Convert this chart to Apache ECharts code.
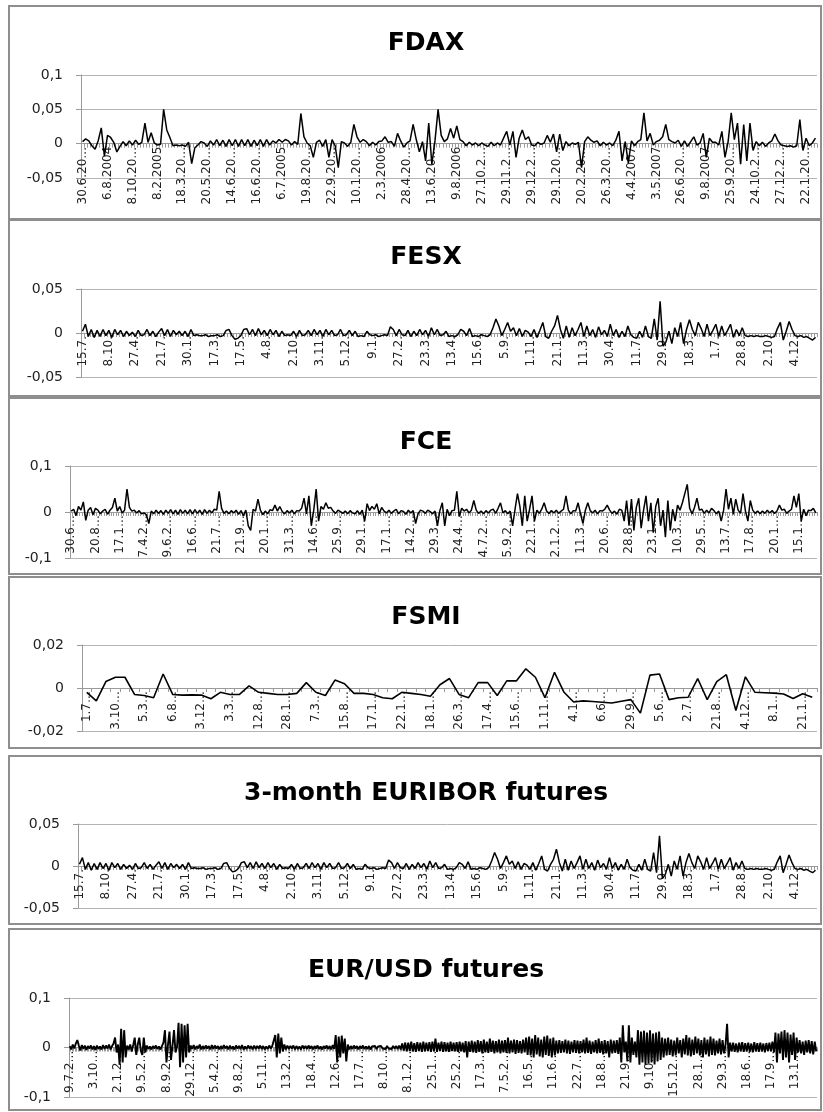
<!DOCTYPE html>
<html>
<head>
<meta charset="utf-8">
<script src="https://cdn.jsdelivr.net/npm/echarts@6/dist/echarts.min.js"></script>
<style>
  html, body { margin: 0; padding: 0; background: #fff; }
  #chart { width: 823px; height: 1112px; }
</style>
</head>
<body>
<div id="chart"></div>
<script>
// tick labels shown under each panel (one every `step` observations)
var fdaxLabels = ['30.6.20…','6.8.2004','8.10.20…','8.2.2005','18.3.20…','20.5.20…','14.6.20…','16.6.20…','6.7.2005','19.8.20…',
  '22.9.20…','10.1.20…','2.3.2006','28.4.20…','13.6.20…','9.8.2006','27.10.2…','29.11.2…','29.12.2…','29.1.20…',
  '20.2.20…','26.3.20…','4.4.2007','3.5.2007','26.6.20…','9.8.2007','25.9.20…','24.10.2…','27.12.2…','22.1.20…'];
var fesxLabels = ['15.7.','8.10.','27.4.','21.7.','30.1.','17.3.','17.5.','4.8.','2.10.','3.11.','5.12.','9.1.','27.2.','23.3.',
  '13.4.','15.6.','5.9.','1.11.','21.1.','11.3.','30.4.','11.7.','29.9.','18.3.','1.7.','28.8.','2.10.','4.12.'];
var fceLabels = ['30.6…','20.8…','17.1…','7.4.2…','9.6.2…','16.6…','21.7…','21.9…','20.1…','31.3…','14.6…','25.9…','29.1…',
  '17.1…','14.2…','29.3…','24.4…','4.7.2…','5.9.2…','22.1…','2.1.2…','11.3…','20.6…','28.8…','23.1…','10.3…','29.5…',
  '13.7…','17.8…','20.1…','15.1…'];
var fsmiLabels = ['1.7…','3.10…','5.3…','6.8…','3.12…','3.3…','12.8…','28.1…','7.3…','15.8…','17.1…','22.1…','18.1…',
  '26.3…','17.4…','15.6…','1.11…','4.1…','6.6…','29.9…','5.6…','2.7…','21.8…','4.12…','8.1…','21.1…'];
var euriborLabels = fesxLabels;
var eurusdLabels = ['9.7.2…','3.10…','2.1.2…','9.5.2…','8.9.2…','29.12…','5.4.2…','9.8.2…','5.11…','13.2…','18.4…','12.6…',
  '17.7…','8.10…','8.1.2…','25.1…','25.2…','17.3…','7.5.2…','16.5…','11.6…','22.7…','18.8…','21.9…','9.10…','15.12…',
  '28.1…','29.3…','18.6…','17.9…','13.1…'];

// series values (returns)
var fdaxValues = [
  0.003,0.007,0.004,-0.003,-0.008,0.004,0.023,-0.018,
  0.012,0.009,0.002,-0.012,-0.004,0.003,-0.003,0.004,
  -0.002,0.005,-0.001,0.002,0.03,0.002,0.016,0.001,
  -0.002,-0.001,0.05,0.02,0.009,-0.003,-0.002,-0.003,
  -0.002,-0.004,0.002,-0.029,-0.006,-0.002,0.003,0.001,
  -0.004,0.004,-0.002,0.006,-0.003,0.005,-0.004,0.006,
  -0.003,0.006,-0.004,0.006,-0.003,0.006,-0.004,0.005,
  -0.003,0.006,-0.004,0.006,-0.002,0.004,0.001,0.006,
  0.002,0.006,0.004,-0.002,0.003,-0.001,0.044,0.01,
  0.001,-0.003,-0.02,0.002,0.005,-0.004,0.006,-0.02,
  0.006,-0.003,-0.035,0.003,0.001,-0.004,0.002,0.028,
  0.01,0.002,0.006,0.003,-0.003,0.002,-0.002,0.003,
  0.004,0.01,0.002,0.003,-0.004,0.015,0.004,-0.005,
  0.001,0.004,0.028,0.006,-0.012,0.003,-0.025,0.03,
  -0.03,0.004,0.05,0.012,0.003,0.007,0.022,0.008,
  0.026,0.006,0.003,-0.003,0.002,-0.002,0.001,-0.003,
  0.001,-0.002,-0.004,0.002,-0.003,0.001,-0.002,0.008,
  0.018,-0.002,0.018,-0.02,0.008,0.02,0.006,0.01,
  -0.002,-0.003,0.002,-0.001,0.001,0.012,0.002,0.014,
  -0.012,0.014,-0.01,0.003,-0.003,0.001,-0.001,0.002,
  -0.035,0.003,0.01,0.005,0.002,0.004,-0.003,0.002,
  -0.002,0.001,-0.003,0.005,0.018,-0.025,0.003,-0.028,
  0.004,-0.003,0.003,0.006,0.045,0.004,0.015,-0.002,
  0.003,0.005,0.01,0.028,0.006,0.003,0.001,0.005,
  -0.004,0.004,-0.004,0.003,0.01,-0.002,0.001,0.015,
  -0.02,0.008,0.002,0.002,-0.002,0.018,-0.02,0.003,
  0.045,0.006,0.03,-0.03,0.028,-0.025,0.03,-0.01,
  0.003,-0.003,0.002,-0.004,0.001,0.004,0.014,0.004,
  -0.002,-0.003,-0.004,-0.003,-0.005,-0.003,0.035,-0.01,
  0.008,-0.003,0.001,0.008
];
var fesxValues = [
  0.002,0.01,-0.004,0.004,-0.005,0.003,-0.004,0.004,-0.003,
  0.003,-0.005,0.004,-0.002,0.003,-0.004,0.002,-0.003,0.001,
  -0.004,0.003,-0.003,-0.002,0.004,-0.003,0.002,-0.004,0.001,
  0.005,-0.003,0.004,-0.004,0.003,-0.002,0.002,-0.003,0.002,
  -0.004,0.004,-0.003,-0.002,-0.003,-0.003,-0.002,-0.004,-0.003,
  -0.003,-0.002,-0.004,-0.003,0.003,0.004,-0.003,-0.007,-0.006,
  -0.003,0.004,0.005,-0.002,0.004,-0.003,0.005,-0.002,0.003,
  -0.003,0.004,-0.002,0.003,-0.004,0.002,-0.003,-0.002,-0.003,
  0.002,-0.004,0.003,-0.003,-0.002,0.003,-0.003,0.004,-0.002,
  0.003,-0.004,0.004,-0.002,0.003,-0.003,-0.002,0.004,-0.003,
  -0.002,0.003,-0.003,0.002,-0.004,-0.003,-0.004,0.002,-0.002,
  -0.003,-0.002,-0.004,-0.003,-0.002,-0.003,0.007,0.004,-0.003,
  0.004,-0.002,-0.003,0.003,-0.004,0.002,-0.003,0.004,-0.002,
  0.003,-0.004,0.006,-0.002,0.004,-0.003,-0.002,0.002,-0.004,
  -0.003,-0.004,-0.002,0.004,0.002,-0.003,0.005,-0.004,-0.003,
  -0.004,-0.002,-0.003,-0.004,-0.002,0.006,0.016,0.008,-0.003,
  0.004,0.012,0.002,0.006,-0.003,0.005,-0.004,0.003,0.001,
  -0.004,0.004,-0.005,0.003,0.012,-0.004,-0.006,0.002,0.008,
  0.02,0.004,-0.006,0.008,-0.005,0.006,-0.003,0.004,0.012,
  -0.004,0.008,-0.003,0.004,-0.005,0.007,-0.002,0.003,-0.004,
  0.01,-0.003,0.004,-0.005,0.002,-0.004,0.008,-0.002,-0.005,
  -0.006,0.002,-0.005,0.008,-0.004,-0.006,0.016,-0.008,0.036,
  -0.015,-0.01,0.002,-0.012,0.006,-0.004,0.012,-0.012,0.004,
  0.015,0.004,-0.003,0.012,0.005,-0.004,0.01,-0.003,0.003,
  0.01,-0.004,0.008,-0.003,0.003,0.01,-0.005,0.004,-0.003,
  0.006,-0.003,-0.004,-0.003,-0.004,-0.003,-0.004,-0.004,-0.003,
  -0.004,-0.005,-0.004,0.005,0.012,-0.008,0.002,0.013,0.004,
  -0.003,-0.004,-0.003,-0.005,-0.004,-0.006,-0.008,-0.005
];
var fceValues = [
  0.002,0.006,-0.008,0.012,0.004,0.022,-0.018,0.004,0.01,-0.006,
  0.008,0.004,-0.004,0.002,0.006,-0.005,0.004,0.01,0.03,0.002,
  0.012,-0.002,0.004,0.05,0.01,0.002,0.004,-0.002,0.003,-0.004,
  -0.002,-0.006,-0.025,0.002,-0.004,0.004,-0.003,0.003,-0.005,0.004,
  -0.003,0.005,-0.004,0.004,-0.005,0.005,-0.003,0.004,-0.004,0.005,
  -0.004,0.005,-0.003,0.004,-0.005,0.005,-0.003,0.004,-0.002,0.006,
  0.004,0.045,0.008,-0.003,0.002,-0.004,0.003,-0.002,0.004,-0.005,
  0.003,-0.008,0.004,-0.03,-0.04,0.006,0.002,0.028,0.004,-0.006,
  0.002,-0.004,0.005,0.003,0.015,0.002,0.012,0.001,-0.004,0.003,
  -0.002,0.004,-0.004,0.003,0.002,0.008,0.03,-0.004,0.035,-0.03,
  0.004,0.05,-0.02,0.012,0.006,0.02,0.008,0.01,0.002,-0.003,
  0.004,0.001,-0.003,0.002,-0.004,0.003,-0.002,-0.004,0.003,-0.005,
  0.004,-0.02,0.018,0.003,0.012,0.006,0.018,-0.004,0.01,0.002,
  -0.002,0.004,-0.003,0.002,0.006,-0.004,0.003,0.001,-0.005,0.004,
  -0.002,0.003,-0.025,-0.004,0.004,0.002,-0.003,0.004,0.001,-0.004,
  0.002,-0.03,0.003,0.02,-0.03,0.006,-0.008,0.003,0.004,0.045,
  -0.01,0.008,0.002,0.006,-0.002,0.004,0.025,0.004,-0.003,0.002,
  -0.004,0.003,-0.002,0.004,0.006,-0.003,0.008,0.02,-0.002,0.003,
  -0.004,0.002,-0.03,0.006,0.04,0.012,-0.03,0.035,-0.02,0.006,
  0.035,-0.02,0.004,-0.003,0.006,0.02,0.002,-0.003,0.003,-0.002,
  0.004,-0.003,0.002,0.006,0.035,0.004,-0.004,0.003,0.002,0.02,
  -0.004,-0.025,0.004,0.02,0.003,-0.002,0.004,-0.004,0.003,0.002,
  0.006,0.015,0.004,-0.003,0.002,-0.005,0.006,0.004,-0.02,0.025,
  -0.03,0.028,-0.04,0.01,0.03,-0.035,0.004,0.035,-0.02,0.02,
  -0.045,0.012,0.03,-0.03,0.004,-0.055,0.025,-0.04,0.006,-0.02,
  0.015,0.004,0.02,0.04,0.06,0.008,-0.004,0.01,0.03,0.004,
  0.006,-0.003,0.004,-0.002,0.008,0.003,-0.004,0.002,-0.02,0.004,
  0.05,0.006,0.03,-0.005,0.028,0.004,-0.003,0.04,0.002,-0.02,
  0.025,0.004,-0.003,0.002,-0.004,0.002,-0.003,0.004,-0.002,0.003,
  -0.003,0.002,0.015,0.004,0.006,-0.003,0.002,0.006,0.035,0.01,
  0.04,-0.02,0.006,-0.008,0.004,0.003,0.008,-0.002
];
var fsmiValues = [
  -0.002,-0.006,0.003,0.005,0.005,-0.003,-0.0035,-0.0045,0.0065,-0.003,
  -0.0033,-0.0032,-0.0033,-0.005,-0.002,-0.003,-0.003,0.001,-0.002,-0.0025,
  -0.003,-0.003,-0.0025,0.0025,-0.002,-0.0035,0.0037,0.002,-0.0025,-0.0025,
  -0.003,-0.0045,-0.005,-0.002,-0.0025,-0.003,-0.0038,0.0015,0.0044,-0.003,
  -0.0045,0.0025,0.0025,-0.0035,0.0033,0.0033,0.0089,0.005,-0.0045,0.0073,
  -0.002,-0.0065,-0.006,-0.0063,-0.0066,-0.007,-0.0062,-0.0054,-0.0117,0.006,
  0.0065,-0.0054,-0.0045,-0.0043,0.0044,-0.0054,0.003,0.0062,-0.0105,0.0052,
  -0.002,-0.0022,-0.0024,-0.0028,-0.0049,-0.0027,-0.0043
];
// the EURIBOR panel shows the same curve as the FESX panel
var euriborValues = fesxValues;
var eurusdValues = [
  0.003,-0.004,0.006,-0.002,0.008,0.015,0.004,-0.006,0.005,-0.003,0.004,-0.005,0.003,-0.002,0.004,-0.004,
  0.003,-0.005,0.004,-0.003,0.002,-0.004,0.005,-0.003,0.004,-0.002,0.006,-0.004,0.003,0.008,0.02,-0.01,
  0.006,-0.035,0.038,-0.03,0.035,-0.02,0.004,-0.004,0.006,-0.008,0.005,0.02,-0.015,0.006,0.02,-0.006,
  -0.015,0.02,-0.01,0.004,-0.003,0.002,-0.004,0.003,-0.002,0.004,-0.003,0.002,-0.004,0.003,0.01,0.035,
  -0.03,0.006,0.032,-0.025,0.004,0.035,-0.01,0.002,0.05,-0.04,0.048,-0.03,0.045,-0.02,0.048,-0.01,
  0.004,-0.003,0.005,-0.004,0.003,-0.002,0.006,-0.004,0.003,-0.003,0.004,-0.002,0.003,-0.004,0.005,-0.003,
  0.004,-0.002,0.003,-0.004,0.003,-0.003,0.005,-0.002,0.003,-0.004,0.004,-0.003,0.002,-0.004,0.004,-0.002,
  0.003,-0.003,0.005,-0.004,0.002,-0.003,0.004,-0.002,0.003,-0.004,0.004,-0.003,0.003,-0.002,0.004,-0.003,
  0.003,-0.004,0.002,-0.003,0.004,-0.002,0.003,0.006,0.025,-0.02,0.028,-0.012,0.02,-0.008,0.006,-0.004,
  0.004,-0.003,0.003,-0.002,0.004,-0.004,0.003,-0.003,0.002,-0.004,0.004,-0.002,0.003,-0.003,0.004,-0.002,
  0.003,-0.004,0.003,-0.002,0.004,-0.003,0.002,-0.004,0.003,-0.002,0.004,-0.003,0.003,-0.004,0.005,-0.003,
  0.025,-0.03,0.022,-0.02,0.024,-0.012,0.018,-0.028,0.006,-0.004,0.003,-0.003,0.004,-0.002,0.003,-0.004,
  0.003,-0.002,0.004,-0.003,0.002,-0.003,0.003,-0.004,0.002,-0.002,0.003,-0.003,0.002,-0.002,0.003,-0.002,
  0.002,-0.003,0.003,-0.002,0.002,-0.003,0.003,-0.002,0.003,-0.003,0.004,-0.004,0.008,-0.006,0.01,-0.008,
  0.01,-0.007,0.012,-0.008,0.009,-0.009,0.011,-0.007,0.01,-0.009,0.012,-0.008,0.01,-0.007,0.011,-0.009,
  0.012,-0.008,0.018,-0.009,0.01,-0.007,0.012,-0.009,0.011,-0.008,0.01,-0.009,0.012,-0.007,0.01,-0.008,
  0.011,-0.009,0.012,-0.008,0.01,-0.01,0.013,-0.02,0.012,-0.009,0.014,-0.01,0.012,-0.011,0.015,-0.009,
  0.013,-0.012,0.016,-0.01,0.012,-0.011,0.018,-0.009,0.014,-0.012,0.013,-0.01,0.016,-0.012,0.014,-0.01,
  0.015,-0.011,0.02,-0.012,0.014,-0.01,0.016,-0.013,0.015,-0.011,0.013,-0.012,0.016,-0.01,0.02,-0.015,
  0.022,-0.016,0.018,-0.02,0.025,-0.014,0.02,-0.018,0.016,-0.02,0.022,-0.015,0.024,-0.017,0.018,-0.02,
  0.02,-0.016,0.014,-0.012,0.015,-0.011,0.013,-0.01,0.016,-0.012,0.014,-0.013,0.012,-0.01,0.015,-0.011,
  0.014,-0.012,0.013,-0.01,0.016,-0.012,0.02,-0.011,0.014,-0.013,0.012,-0.01,0.015,-0.012,0.018,-0.011,
  0.013,-0.014,0.015,-0.012,0.013,-0.02,0.016,-0.012,0.014,-0.011,0.015,-0.013,0.02,-0.03,0.045,-0.01,
  0.012,-0.028,0.045,-0.03,0.02,-0.015,0.012,-0.02,0.035,-0.035,0.032,-0.03,0.034,-0.035,0.03,-0.032,
  0.035,-0.03,0.028,-0.034,0.03,-0.028,0.032,-0.025,0.02,-0.02,0.018,-0.016,0.02,-0.015,0.016,-0.018,
  0.014,-0.016,0.02,-0.012,0.015,-0.02,0.018,-0.014,0.025,-0.016,0.02,-0.018,0.016,-0.015,0.022,-0.012,
  0.018,-0.016,0.015,-0.02,0.02,-0.014,0.016,-0.018,0.022,-0.015,0.018,-0.016,0.014,-0.012,0.018,-0.014,
  0.015,-0.012,0.006,0.048,-0.02,0.01,-0.008,0.01,-0.009,0.008,-0.01,0.01,-0.008,0.011,-0.009,0.009,
  -0.008,0.01,-0.009,0.008,-0.01,0.011,-0.008,0.009,-0.009,0.01,-0.008,0.008,-0.01,0.009,-0.007,0.01,
  -0.008,0.012,-0.01,0.03,-0.03,0.028,-0.012,0.032,-0.025,0.035,-0.02,0.03,-0.03,0.026,-0.015,0.03,
  -0.025,0.02,-0.01,0.015,-0.012,0.012,-0.015,0.014,-0.01,0.015,-0.012,0.013,-0.014,0.012,-0.008
];

var FONT = 'DejaVu Sans';
var GRID_COLOR = '#b4b4b4';
var AXIS_COLOR = '#9a9a9a';

// layout of the six stacked panels (pixels)
var panels = [
  { title: 'FDAX', values: fdaxValues, labels: fdaxLabels, step: 8, min: -0.05, max: 0.1, interval: 0.05,
    box: [9, 6, 812, 213], titleY: 38, grid: { left: 81, top: 75, width: 736, height: 103 }, lineWidth: 1.5 },
  { title: 'FESX', values: fesxValues, labels: fesxLabels, step: 9, min: -0.05, max: 0.05, interval: 0.05,
    box: [9, 220, 812, 176], titleY: 252, grid: { left: 81, top: 289, width: 736, height: 88 }, lineWidth: 1.5 },
  { title: 'FCE', values: fceValues, labels: fceLabels, step: 10, min: -0.1, max: 0.1, interval: 0.1,
    box: [9, 398, 812, 176], titleY: 437, grid: { left: 70, top: 466, width: 747, height: 92 }, lineWidth: 1.5 },
  { title: 'FSMI', values: fsmiValues, labels: fsmiLabels, step: 3, min: -0.02, max: 0.02, interval: 0.02,
    box: [9, 577, 812, 171], titleY: 612, grid: { left: 82, top: 645, width: 735, height: 86 }, lineWidth: 1.6 },
  { title: '3-month EURIBOR futures', values: euriborValues, labels: euriborLabels, step: 9, min: -0.05, max: 0.05, interval: 0.05,
    box: [9, 756, 812, 168], titleY: 788, grid: { left: 78, top: 824, width: 739, height: 84 }, lineWidth: 1.5 },
  { title: 'EUR/USD futures', values: eurusdValues, labels: eurusdLabels, step: 16, min: -0.1, max: 0.1, interval: 0.1,
    box: [9, 929, 812, 181], titleY: 965, grid: { left: 69, top: 998, width: 748, height: 99 }, lineWidth: 1.9 }
];

function yFmt(v) {
  return String(Math.round(v * 1000) / 1000).replace('.', ',');
}

var option = {
  animation: false,
  backgroundColor: '#fff',
  title: [], grid: [], xAxis: [], yAxis: [], series: [], graphic: []
};

panels.forEach(function (p, i) {
  // category axis sits on the zero line, labels hang below it
  var zeroOffset = -p.grid.height * (0 - p.min) / (p.max - p.min);

  option.graphic.push({
    type: 'rect', silent: true, z: -1,
    shape: { x: p.box[0], y: p.box[1], width: p.box[2], height: p.box[3] },
    style: { fill: '#fff', stroke: '#8e8e8e', lineWidth: 2 }
  });
  option.title.push({
    text: p.title, left: 421, top: p.titleY - 15, textAlign: 'center',
    textStyle: { fontFamily: FONT, fontWeight: 'bold', fontSize: 25, lineHeight: 30, color: '#000' }
  });
  option.grid.push(Object.assign({ containLabel: false }, p.grid));
  option.xAxis.push({
    type: 'category', gridIndex: i, boundaryGap: true, position: 'bottom', offset: zeroOffset,
    data: p.values.map(function (v, k) { return k; }),
    axisLine: { onZero: false, lineStyle: { color: AXIS_COLOR, width: 1 } },
    axisTick: { show: true, interval: 0, length: 4, lineStyle: { color: AXIS_COLOR } },
    axisLabel: {
      interval: p.step - 1, rotate: 90, margin: 3, fontFamily: FONT, fontSize: 12, color: '#222',
      formatter: function (val, idx) { return p.labels[Math.round(idx / p.step)] || ''; }
    },
    splitLine: { show: false }
  });
  option.yAxis.push({
    type: 'value', gridIndex: i, min: p.min, max: p.max, interval: p.interval,
    axisLine: { show: true, lineStyle: { color: AXIS_COLOR } },
    axisTick: { show: true, length: 5, lineStyle: { color: AXIS_COLOR } },
    axisLabel: { margin: 18, fontFamily: FONT, fontSize: 14, color: '#222', formatter: yFmt },
    splitLine: { show: true, lineStyle: { color: GRID_COLOR, width: 1 } }
  });
  option.series.push({
    type: 'line', xAxisIndex: i, yAxisIndex: i, data: p.values, z: 3,
    symbol: 'none', lineStyle: { color: '#000', width: p.lineWidth }, itemStyle: { color: '#000' }
  });
});

var chart = echarts.init(document.getElementById('chart'), null, { renderer: 'canvas' });
chart.setOption(option);
</script>
</body>
</html>
